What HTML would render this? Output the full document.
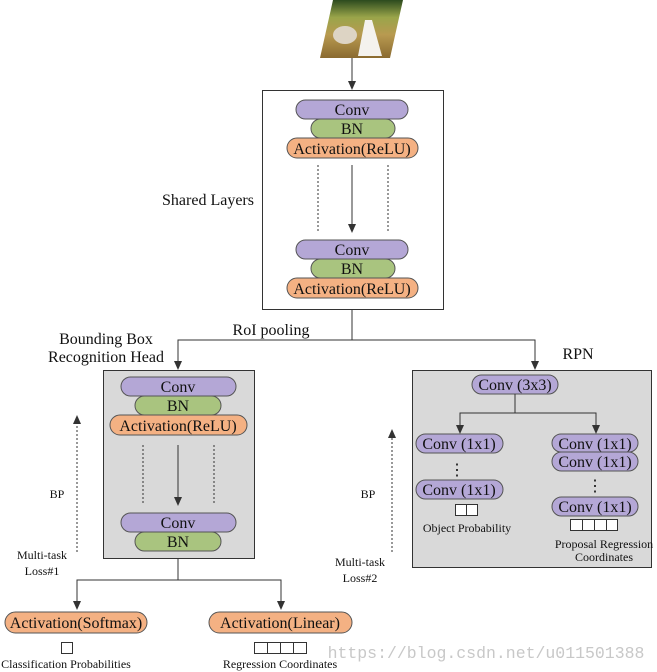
<!DOCTYPE html>
<html><head><meta charset="utf-8"><style>
html,body{margin:0;padding:0;background:#fff;}
svg{display:block;font-family:"Liberation Serif",serif;}
</style></head><body>
<svg width="657" height="672" viewBox="0 0 657 672" xmlns="http://www.w3.org/2000/svg">
<defs>
<linearGradient id="img" x1="0" y1="0" x2="0" y2="1"><stop offset="0" stop-color="#2c4a1e"/><stop offset="0.3" stop-color="#9aa54a"/><stop offset="0.6" stop-color="#b89a50"/><stop offset="1" stop-color="#8a6a30"/></linearGradient>
</defs>
<style>
.p{stroke:#555;stroke-width:1}
.cv{fill:#b4a7d6}.bn{fill:#a9c47f}.ac{fill:#f4b183}
text{fill:#111;font-size:16px;text-anchor:middle}
.s{font-size:12px}
.l{stroke:#333;stroke-width:1;fill:none}
.d{stroke:#333;stroke-width:1;stroke-dasharray:2,2;fill:none}
.h{fill:#333}
</style>
<!-- image -->
<polygon points="333,0 403,0 390,58 320,58" fill="url(#img)"/>
<ellipse cx="345" cy="35" rx="12" ry="9" fill="#ddd4c4"/>
<path d="M365,20 L372,20 L382,56 L358,56 Z" fill="#f4f2ee"/>
<line class="l" x1="352" y1="58" x2="352" y2="82"/>
<polygon class="h" points="348,81 356,81 352,90"/>
<!-- shared box -->
<rect x="262.5" y="90.5" width="181" height="219" fill="#fff" stroke="#333"/>
<rect class="p cv" x="296" y="100" width="112" height="19" rx="9.5"/><text x="352" y="115">Conv</text>
<rect class="p bn" x="311" y="119" width="84" height="19" rx="9.5"/><text x="352" y="134">BN</text>
<rect class="p ac" x="287" y="138" width="131" height="20" rx="10"/><text x="352" y="154">Activation(ReLU)</text>
<line class="d" x1="318" y1="165" x2="318" y2="233"/><line class="d" x1="388" y1="165" x2="388" y2="233"/>
<line class="l" x1="352" y1="165" x2="352" y2="225"/>
<polygon class="h" points="348,224 356,224 352,233"/>
<rect class="p cv" x="296" y="240" width="112" height="19" rx="9.5"/><text x="352" y="255">Conv</text>
<rect class="p bn" x="311" y="259" width="84" height="19" rx="9.5"/><text x="352" y="274">BN</text>
<rect class="p ac" x="287" y="278" width="131" height="20" rx="10"/><text x="352" y="294">Activation(ReLU)</text>
<text x="208" y="205">Shared Layers</text>
<!-- RoI -->
<polyline class="l" points="352,309 352,340"/>
<polyline class="l" points="178,362 178,340 535,340 535,362"/>
<polygon class="h" points="174,361 182,361 178,370"/>
<polygon class="h" points="531,361 539,361 535,370"/>
<text x="271" y="335">RoI pooling</text>
<text x="106" y="344">Bounding Box</text>
<text x="106" y="362">Recognition Head</text>
<text x="578" y="359">RPN</text>
<!-- left box -->
<rect x="103.5" y="370.5" width="151" height="188" fill="#d9d9d9" stroke="#333"/>
<rect class="p cv" x="121" y="377" width="115" height="19" rx="9.5"/><text x="178" y="392">Conv</text>
<rect class="p bn" x="135" y="396" width="86" height="19" rx="9.5"/><text x="178" y="411">BN</text>
<rect class="p ac" x="110" y="415" width="137" height="20" rx="10"/><text x="178" y="431">Activation(ReLU)</text>
<line class="d" x1="143" y1="445" x2="143" y2="505"/><line class="d" x1="214" y1="445" x2="214" y2="505"/>
<line class="l" x1="178" y1="445" x2="178" y2="498"/>
<polygon class="h" points="174,497 182,497 178,506"/>
<rect class="p cv" x="121" y="513" width="115" height="19" rx="9.5"/><text x="178" y="528">Conv</text>
<rect class="p bn" x="135" y="532" width="86" height="19" rx="9.5"/><text x="178" y="547">BN</text>
<line class="d" x1="77" y1="552" x2="77" y2="422"/>
<polygon class="h" points="73,424 81,424 77,415"/>
<text class="s" x="57" y="498">BP</text>
<text class="s" x="42" y="559">Multi-task</text>
<text class="s" x="42" y="575">Loss#1</text>
<polyline class="l" points="178,559 178,580"/>
<polyline class="l" points="77,602 77,580 281,580 281,602"/>
<polygon class="h" points="73,601 81,601 77,610"/>
<polygon class="h" points="277,601 285,601 281,610"/>
<rect class="p ac" x="5" y="612" width="142" height="21" rx="10.5"/><text x="76" y="628">Activation(Softmax)</text>
<rect class="p ac" x="209" y="612" width="143" height="21" rx="10.5"/><text x="280" y="628">Activation(Linear)</text>
<rect x="61.5" y="642.5" width="11" height="11" fill="#fff" stroke="#333"/>
<text class="s" x="66" y="668">Classification Probabilities</text>
<g fill="#fff" stroke="#333"><rect x="254.5" y="642.5" width="13" height="11"/><rect x="267.5" y="642.5" width="13" height="11"/><rect x="280.5" y="642.5" width="13" height="11"/><rect x="293.5" y="642.5" width="13" height="11"/></g>
<text class="s" x="280" y="668">Regression Coordinates</text>
<text x="486" y="658" style="font-family:'Liberation Mono',monospace;font-size:16.5px;fill:#c8c8c8">https://blog.csdn.net/u011501388</text>
<!-- right box -->
<rect x="412.5" y="370.5" width="239" height="197" fill="#d9d9d9" stroke="#333"/>
<rect class="p cv" x="472" y="375" width="86" height="19" rx="9.5"/><text x="515" y="390">Conv (3x3)</text>
<polyline class="l" points="515,394 515,413"/>
<polyline class="l" points="460,426 460,413 596,413 596,426"/>
<polygon class="h" points="456,425 464,425 460,434"/>
<polygon class="h" points="592,425 600,425 596,434"/>
<rect class="p cv" x="416" y="434" width="87" height="19" rx="9.5"/><text x="459" y="449">Conv (1x1)</text>
<text x="457" y="475">⋮</text>
<rect class="p cv" x="416" y="480" width="87" height="19" rx="9.5"/><text x="459" y="495">Conv (1x1)</text>
<g fill="#fff" stroke="#333"><rect x="455.5" y="504.5" width="11" height="11"/><rect x="466.5" y="504.5" width="11" height="11"/></g>
<text class="s" x="467" y="532">Object Probability</text>
<rect class="p cv" x="552" y="434" width="86" height="18" rx="9"/><text x="595" y="449">Conv (1x1)</text>
<rect class="p cv" x="552" y="452" width="86" height="19" rx="9.5"/><text x="595" y="467">Conv (1x1)</text>
<text x="595" y="491">⋮</text>
<rect class="p cv" x="552" y="497" width="86" height="19" rx="9.5"/><text x="595" y="512">Conv (1x1)</text>
<g fill="#fff" stroke="#333"><rect x="570.5" y="519.5" width="12" height="11"/><rect x="582.5" y="519.5" width="12" height="11"/><rect x="594.5" y="519.5" width="12" height="11"/><rect x="606.5" y="519.5" width="11" height="11"/></g>
<text class="s" x="604" y="548">Proposal Regression</text>
<text class="s" x="604" y="561">Coordinates</text>
<line class="d" x1="392" y1="552" x2="392" y2="436"/>
<polygon class="h" points="388,438 396,438 392,429"/>
<text class="s" x="368" y="498">BP</text>
<text class="s" x="360" y="566">Multi-task</text>
<text class="s" x="360" y="582">Loss#2</text>
</svg>
</body></html>
